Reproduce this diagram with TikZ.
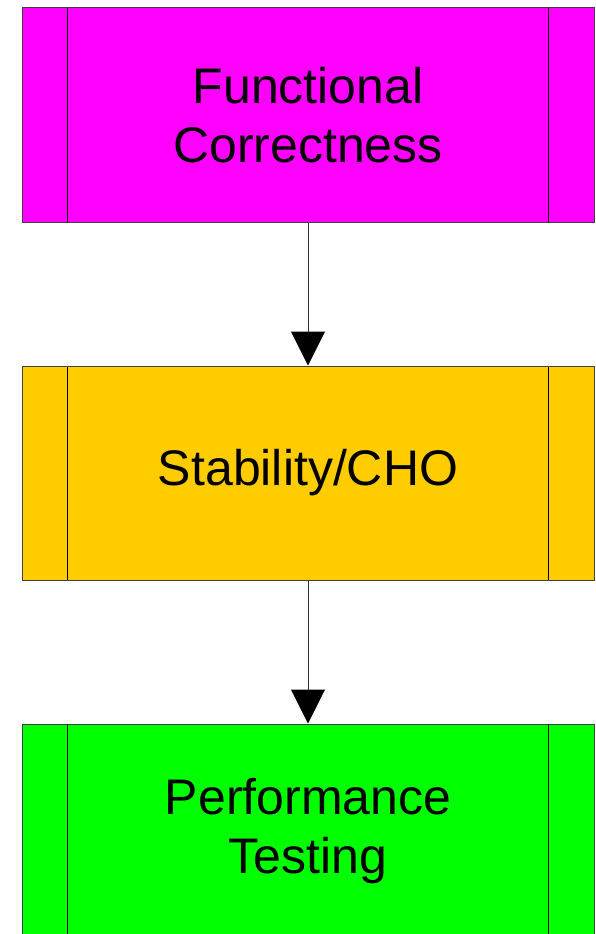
\documentclass[tikz,border=0pt]{standalone}
\usepackage{fontspec}
\setmainfont{Liberation Sans}
\usetikzlibrary{arrows.meta}
\definecolor{stageA}{HTML}{FF00FF}
\definecolor{stageB}{HTML}{FFCC00}
\definecolor{stageC}{HTML}{00FF00}
\tikzset{
  stagebox/.style={draw=black!75, line width=1pt, minimum width=572pt, minimum height=214pt,
    inner sep=0pt, align=center, font=\fontsize{50}{59}\selectfont,
    path picture={
      \draw[black, line width=1pt] ([xshift=45.5pt]path picture bounding box.north west) -- ([xshift=45.5pt]path picture bounding box.south west);
      \draw[black, line width=1pt] ([xshift=-45.5pt]path picture bounding box.north east) -- ([xshift=-45.5pt]path picture bounding box.south east);
    }},
  flow/.style={draw=black!80, line width=1pt, -{Triangle[length=34pt, width=34pt, color=black]}}
}
\begin{document}
\begin{tikzpicture}[x=1pt, y=-1pt]
  \useasboundingbox (0,0) rectangle (596,934);
  \begin{scope}
    \clip (0,0) rectangle (596,934);
    \node[stagebox, fill=stageA] (func) at (308,115) {Functional\\Correctness};
    \node[stagebox, fill=stageB] (stab) at (308,473) {\raisebox{-3pt}{Stability/CHO}};
    \node[stagebox, fill=stageC] (perf) at (308,831) {Performance\\Testing};
    \draw[flow] (func) -- (stab);
    \draw[flow] (stab) -- (perf);
  \end{scope}
\end{tikzpicture}
\end{document}
